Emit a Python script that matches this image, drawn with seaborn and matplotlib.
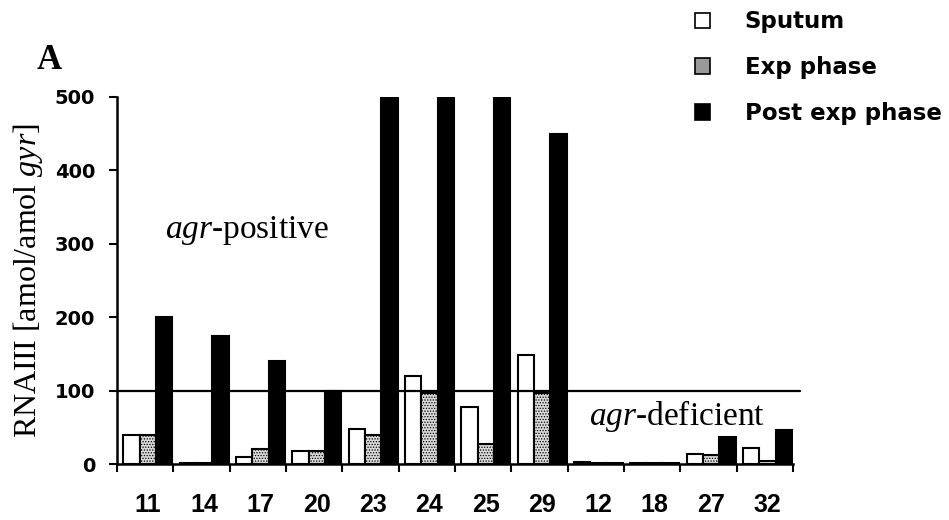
import numpy as np
import pandas as pd
import matplotlib
matplotlib.use("Agg")
import matplotlib.pyplot as plt
import seaborn as sns
from matplotlib.patches import Patch

strains = ["11", "14", "17", "20", "23", "24", "25", "29", "12", "18", "27", "32"]
series_names = ["Sputum", "Exp phase", "Post exp phase"]
sputum = [40, 1, 10, 18, 48, 120, 78, 148, 3, 1, 13, 22]
exp_phase = [40, 1, 20, 18, 40, 97, 27, 97, 2, 1, 12, 4]
post_exp = [200, 175, 140, 100, 500, 500, 500, 450, 2, 1, 37, 46]
y_ticks = [0, 100, 200, 300, 400, 500]
threshold = 100

df = pd.DataFrame({
    "strain": strains * 3,
    "series": sum([[s] * len(strains) for s in series_names], []),
    "value": sputum + exp_phase + post_exp,
})

sns.set_theme(style="white")
plt.rcParams["mathtext.fontset"] = "custom"
plt.rcParams["mathtext.it"] = "Liberation Serif:italic"
plt.rcParams["mathtext.rm"] = "Liberation Serif"
plt.rcParams["hatch.linewidth"] = 0.6
for k in ["text.color", "axes.labelcolor", "xtick.color", "ytick.color", "axes.edgecolor"]:
    plt.rcParams[k] = "black"

fig = plt.figure(figsize=(9.49, 5.20), dpi=100)
ax = fig.add_axes([117 / 949, 1 - 464 / 520, 676 / 949, 367 / 520])

sns.barplot(data=df, x="strain", y="value", hue="series", order=strains,
            hue_order=series_names, palette=["white", "#d9d9d9", "black"],
            edgecolor="black", linewidth=1.5, width=0.87, ax=ax, legend=False)
for p in ax.containers[1]:
    p.set_hatch("......")
    p.set_edgecolor("black")

ax.set_ylim(0, 500)
shift = 0.045
ax.set_xlim(-0.5 - shift, len(strains) - 0.5 - shift)
ax.set_yticks(y_ticks)
ax.set_yticklabels([str(t) for t in y_ticks], fontfamily="DejaVu Sans",
                   fontweight="bold", fontsize=14)
ax.set_xticks(range(len(strains)))
ax.set_xticklabels(strains, fontfamily="Liberation Sans", fontweight="bold", fontsize=18)
ax.tick_params(axis="x", which="major", length=0, pad=21)
ax.set_xticks(np.arange(-0.5, len(strains), 1.0) - shift, minor=True)
ax.tick_params(axis="x", which="minor", length=5.8, width=1.5, direction="out", bottom=True)
ax.tick_params(axis="y", which="major", length=5.8, width=1.5, direction="out", left=True, pad=10)

for s in ["top", "right"]:
    ax.spines[s].set_visible(False)
for s in ["left", "bottom"]:
    ax.spines[s].set_linewidth(1.8)
    ax.spines[s].set_color("black")

ax.set_xlabel("")
ax.set_ylabel(r"RNAIII [amol/amol $\it{gyr}$]", fontfamily="Liberation Serif",
              fontsize=23, labelpad=7)

ax.axhline(threshold, xmin=0, xmax=1.01, color="black", linewidth=1.6, clip_on=False, zorder=1.5)

ax.text(0.30, 318, r"$\it{agr}$-positive", fontfamily="Liberation Serif", fontsize=24,
        va="center", ha="left")
ax.text(7.83, 65, r"$\it{agr}$-deficient", fontfamily="Liberation Serif", fontsize=24,
        va="center", ha="left")

fig.text(37 / 949, 1 - 69 / 520, "A", fontfamily="Liberation Serif", fontweight="bold",
         fontsize=25, va="baseline")

handles = [Patch(facecolor="white", edgecolor="black", linewidth=1.2),
           Patch(facecolor="#999999", edgecolor="black", linewidth=1.2),
           Patch(facecolor="black", edgecolor="black", linewidth=1.2)]
fig.legend(handles, series_names, loc="upper left", bbox_to_anchor=(0.711, 1.02),
           frameon=False, prop={"family": "DejaVu Sans", "weight": "bold", "size": 16.5},
           handlelength=0.65, handleheight=0.65, handletextpad=1.5, labelspacing=1.0)

fig.savefig("out.png", dpi=100)
